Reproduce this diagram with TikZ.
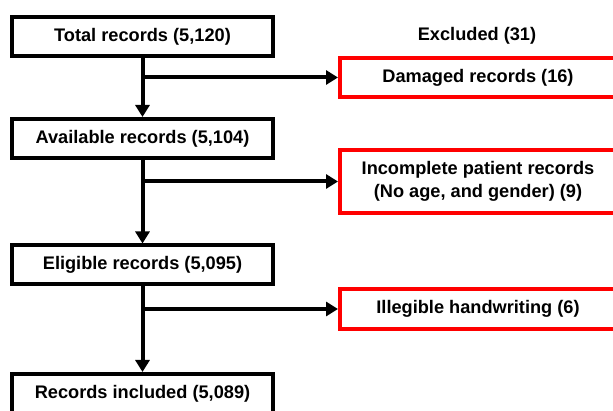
\documentclass[tikz,border=0pt]{standalone}
\usepackage{fontspec}
\setmainfont{Liberation Sans}
\usetikzlibrary{arrows.meta}
\begin{document}
\begin{tikzpicture}[x=1pt,y=-1pt,
  every node/.style={font=\fontsize{18.2}{23}\selectfont\bfseries},
  mainbox/.style={draw=black,line width=4pt,fill=white,minimum width=261pt,minimum height=39pt,inner sep=0pt,align=center},
  exbox/.style={draw=red,line width=4pt,fill=white,minimum width=276pt,inner sep=0pt,align=center},
  arr/.style={line width=4pt,-{Triangle[length=12pt,width=14pt]}}]
\useasboundingbox (0,0) rectangle (613,411);
\clip (0,0) rectangle (613,411);
\node[mainbox] (total) at (142.5,36.5) {Total records (5,120)};
\node[mainbox] (avail) at (142.5,138.5) {Available records (5,104)};
\node[mainbox] (elig) at (142.5,265) {Eligible records (5,095)};
\node[mainbox] (incl) at (142.5,393.5) {Records included (5,089)};
\node (excl) at (477,36) {Excluded (31)};
\node[exbox,minimum height=39pt] (damaged) at (478,77.5) {Damaged records (16)};
\node[exbox,minimum height=63pt] (incomp) at (478,181.5) {Incomplete patient records\\(No age, and gender) (9)};
\node[exbox,minimum height=40pt] (illeg) at (478,309) {Illegible handwriting (6)};
\draw[arr] (total) -- (avail);
\draw[arr] (avail) -- (elig);
\draw[arr] (elig) -- (incl);
\draw[arr] (total.south |- damaged.west) -- (damaged.west);
\draw[arr] (avail.south |- incomp.west) -- (incomp.west);
\draw[arr] (elig.south |- illeg.west) -- (illeg.west);
\end{tikzpicture}
\end{document}
